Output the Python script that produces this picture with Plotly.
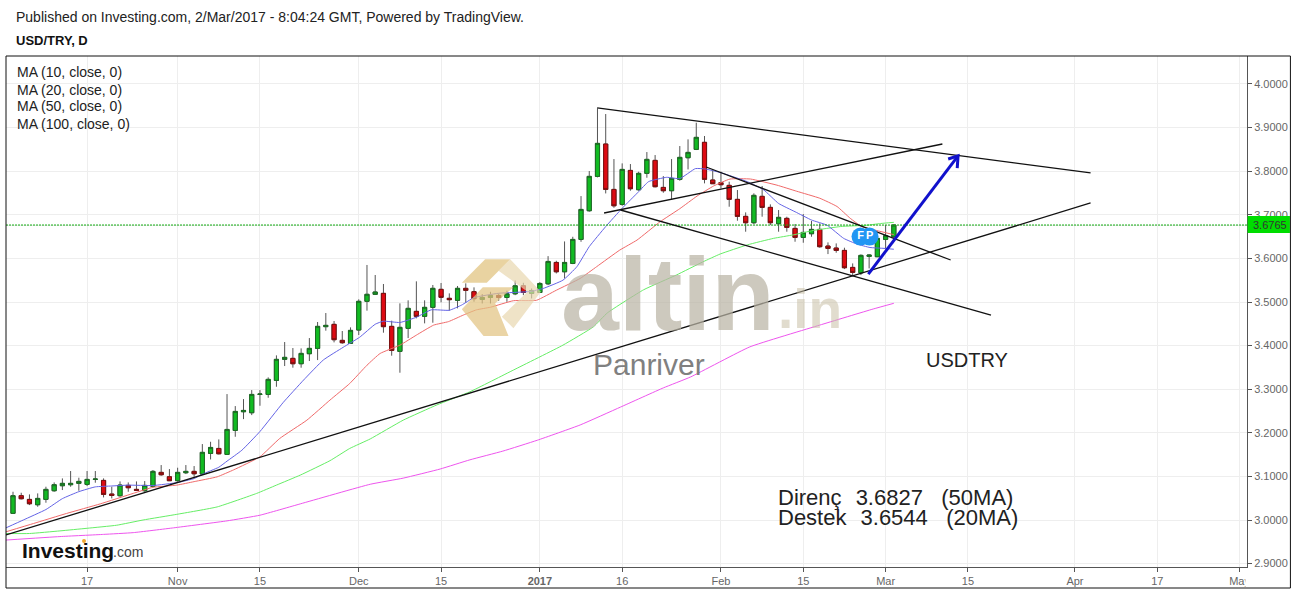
import plotly.graph_objects as go
import numpy as np

# Daily bars, in bar-number order (bar 0 = 4 Oct 2016)
opens = [3.0153,3.0557,3.0472,3.0350,3.0472,3.0671,3.0786,3.0809,3.0840,3.0816,3.0931,3.0908,3.0595,3.0557,3.0794,3.0702,3.0671,3.0771,3.1092,3.0992,3.0901,3.1084,3.1115,3.1054,
 3.1527,3.1641,3.1504,3.2054,3.2483,3.2460,3.2880,3.2880,3.3202,3.3684,3.3707,3.3584,3.3814,3.3936,3.4434,3.4487,3.4120,3.4051,3.4357,3.5015,3.5176,3.5198,3.4441,3.3867,
 3.4395,3.4785,3.4671,3.4877,3.5290,3.5084,3.5038,3.5313,3.5237,3.5058,3.5104,3.5150,3.5104,3.5188,3.5371,3.5195,3.5218,3.5417,3.5907,3.5693,3.5884,3.6435,3.7093,3.7881,
 3.8623,3.7582,3.7238,3.8018,3.7575,3.7950,3.8248,3.7628,3.7552,3.7812,3.8309,3.8500,3.8662,3.7797,3.7736,3.7675,3.7354,3.6964,3.6818,3.7423,3.7170,3.6795,3.6918,3.6688,
 3.6482,3.6566,3.6665,3.6283,3.6237,3.6183,3.5793,3.5671,3.6046,3.6038,3.6436,3.6497]
highs = [3.0648,3.0625,3.0587,3.0610,3.0763,3.0862,3.0954,3.1123,3.0970,3.1123,3.1123,3.0954,3.0763,3.0885,3.0862,3.0885,3.0893,3.1146,3.1260,3.1168,3.1199,3.1260,3.1237,3.1742,
 3.1794,3.1848,3.2888,3.2613,3.2773,3.2980,3.2980,3.3271,3.3776,3.4082,3.3944,3.3936,3.4173,3.4541,3.4747,3.4564,3.4334,3.4418,3.5061,3.5849,3.5619,3.5413,3.4571,3.4969,
 3.5038,3.5474,3.5038,3.5390,3.5436,3.5198,3.5367,3.5428,3.5336,3.5180,3.5234,3.5195,3.5257,3.5494,3.5440,3.5310,3.5456,3.6052,3.5945,3.6389,3.6496,3.7429,3.8003,3.9441,
 3.9311,3.8278,3.8179,3.8164,3.7988,3.8439,3.8370,3.7888,3.8278,3.8577,3.8730,3.9112,3.8807,3.8042,3.7989,3.7759,3.7568,3.7055,3.7492,3.7660,3.7239,3.7109,3.6956,3.6788,
 3.7017,3.6857,3.6803,3.6367,3.6344,3.6245,3.5885,3.6092,3.6092,3.6497,3.6765,3.6788]
lows = [3.0150,3.0472,3.0342,3.0304,3.0396,3.0648,3.0687,3.0763,3.0671,3.0778,3.0855,3.0518,3.0495,3.0533,3.0648,3.0671,3.0648,3.0763,3.1015,3.0893,3.0878,3.1054,3.0992,3.1031,
 3.1389,3.1504,3.1504,3.1909,3.2314,3.2406,3.2620,3.2804,3.3056,3.3531,3.3493,3.3493,3.3646,3.3668,3.4342,3.4074,3.4043,3.4036,3.4242,3.4801,3.5160,3.4296,3.3768,3.3378,
 3.4173,3.4625,3.4510,3.4525,3.4992,3.4801,3.4854,3.4984,3.5007,3.4966,3.4966,3.5027,3.5004,3.5157,3.5157,3.5081,3.5218,3.5387,3.5655,3.5540,3.5869,3.6381,3.7070,3.7858,
 3.7490,3.7161,3.7207,3.7552,3.7552,3.7850,3.7628,3.7506,3.7353,3.7781,3.8041,3.8485,3.7721,3.7706,3.7606,3.7185,3.6864,3.6612,3.6788,3.6956,3.6765,3.6612,3.6612,3.6382,
 3.6359,3.6497,3.6245,3.6099,3.6130,3.5755,3.5617,3.5617,3.5770,3.6038,3.6206,3.6459]
closes = [3.0557,3.0488,3.0373,3.0495,3.0702,3.0809,3.0840,3.0840,3.0885,3.0931,3.0938,3.0587,3.0564,3.0801,3.0740,3.0679,3.0794,3.1115,3.1038,3.0901,3.1092,3.1115,3.1061,3.1551,
 3.1664,3.1519,3.2077,3.2490,3.2513,3.2880,3.2888,3.3225,3.3684,3.3730,3.3584,3.3821,3.3936,3.4441,3.4464,3.4135,3.4066,3.4349,3.5015,3.5176,3.5229,3.4434,3.3890,3.4418,
 3.4854,3.4671,3.4877,3.5313,3.5107,3.5053,3.5313,3.5267,3.5076,3.5104,3.5150,3.5104,3.5188,3.5371,3.5218,3.5264,3.5425,3.5930,3.5693,3.5907,3.6435,3.7123,3.7881,3.8638,
 3.7582,3.7207,3.8041,3.7598,3.7950,3.8271,3.7644,3.7552,3.7835,3.8317,3.8431,3.8776,3.7813,3.7713,3.7690,3.7354,3.6964,3.6818,3.7446,3.7170,3.6818,3.6941,3.6711,3.6482,
 3.6596,3.6665,3.6268,3.6229,3.6183,3.5786,3.5678,3.6069,3.6077,3.6459,3.6520,3.6765]
bars = list(range(len(opens)))

ma10_x = [-0.85,1.25,4,6,8,10,12,14,17,20,22,23,25,26,27.8,30,32.8,35.3,37.7,40.1,42.1,44,45,47,49,50.8,53,54.5,56,59,62.8,64.4,66.8,68.5,70,72,74,76,77.2,79.4,81,82.9,84.1,85.9,89.2,91.2,93,95,97,98.9,100.9,102.5,104.1,105.8,107]
ma10_y = [2.982,3.000,3.024,3.049,3.065,3.076,3.078,3.080,3.079,3.086,3.095,3.105,3.121,3.135,3.160,3.203,3.269,3.321,3.367,3.396,3.419,3.449,3.456,3.453,3.465,3.482,3.481,3.493,3.510,3.520,3.524,3.531,3.550,3.581,3.627,3.673,3.715,3.753,3.776,3.786,3.783,3.806,3.805,3.797,3.776,3.757,3.726,3.707,3.688,3.676,3.646,3.633,3.625,3.623,3.621]
ma20_x = [-0.85,2.5,6.5,10.6,14.6,17,19.9,22,24.8,26.8,30,32.4,35.7,38.5,40.9,43,44.6,47,49,51.1,52.9,54.7,56.3,58,60.8,63.6,66,68.9,70.9,73.7,75.8,78.6,81,83.1,85.1,87.1,89.6,92.8,95.2,98,100.1,101.7,103.1,104.9,107]
ma20_y = [2.973,2.992,3.015,3.037,3.061,3.075,3.080,3.088,3.099,3.115,3.145,3.187,3.229,3.275,3.313,3.355,3.382,3.401,3.424,3.447,3.455,3.470,3.482,3.488,3.503,3.504,3.527,3.554,3.581,3.619,3.642,3.684,3.714,3.743,3.766,3.782,3.782,3.768,3.754,3.738,3.719,3.692,3.673,3.664,3.6544]
ma50_x = [-0.85,2,5.7,9,12.6,15.8,19.9,24.8,29.6,32,34.9,38.5,40.9,43.4,47.4,51.5,55.5,60.8,66.8,70.5,72.2,76.6,80.6,83.8,85.9,89.2,92.4,94.8,97.2,100.5,103.7,105.4,107]
ma50_y = [2.969,2.969,2.975,2.981,2.988,3.000,3.013,3.030,3.061,3.080,3.103,3.136,3.164,3.186,3.229,3.264,3.294,3.344,3.401,3.443,3.475,3.528,3.562,3.592,3.610,3.631,3.646,3.654,3.664,3.673,3.676,3.680,3.6827]
ma100_x = [-0.85,5.7,11,14.6,19.5,26,30,34.9,43.4,47.4,51.9,55.5,59.5,63.7,68.9,73.8,79,82.3,89.5,98,104.5,107]
ma100_y = [2.954,2.962,2.967,2.971,2.982,2.998,3.011,3.037,3.082,3.096,3.117,3.138,3.158,3.183,3.218,3.259,3.303,3.328,3.397,3.447,3.484,3.497]

trend_x = [70.96,130.9,None,71.8,112.9,None,73.8,118.8,None,84.2,113.9,None,-0.85,130.9]
trend_y = [3.945,3.7959,None,3.7041,3.8624,None,3.711,3.470,None,3.8096,3.5963,None,2.9656,3.7271]
arrow_x = [103.9,114.8,None,113.6,114.8,114.7]
arrow_y = [3.564,3.835,None,3.828,3.835,3.807]

last_price = 3.6765
price_ticks = [2.9,3.0,3.1,3.2,3.3,3.4,3.5,3.6,3.7,3.8,3.9,4.0]
time_tickvals = [-1,9,20,30,42,52,64,74,86,96,106,116,129,139,149]
time_ticktext = ["Oct","17","Nov","15","Dec","15","<b>2017</b>","16","Feb","15","Mar","15","Apr","17","May"]
ma_labels = ["MA (10, close, 0)","MA (20, close, 0)","MA (50, close, 0)","MA (100, close, 0)"]

W,H=1297,593
L,R,T,B=6,1246.6,56,567
FONT="Liberation Sans"
def px(x): return (x-L)/(R-L)
def py(y): return (B-y)/(B-T)

fig=go.Figure()
# wicks underneath, bodies on top so that each can have its own outline colour
fig.add_trace(go.Candlestick(x=bars,open=opens,high=highs,low=lows,close=closes,whiskerwidth=0,
    increasing=dict(line=dict(color="#555555",width=1),fillcolor="#11bb22"),
    decreasing=dict(line=dict(color="#555555",width=1),fillcolor="#dd0a12"),showlegend=False,hoverinfo="skip"))
o=np.array(opens);c=np.array(closes)
fig.add_trace(go.Candlestick(x=bars,open=opens,close=closes,high=np.maximum(o,c),low=np.minimum(o,c),whiskerwidth=0,
    increasing=dict(line=dict(color="#1d6b24",width=1),fillcolor="#11bb22"),
    decreasing=dict(line=dict(color="#7a1010",width=1),fillcolor="#dd0a12"),showlegend=False,hoverinfo="skip"))
for xs,ys,col in [(ma100_x,ma100_y,"#ee55ee"),(ma50_x,ma50_y,"#66ee66"),(ma20_x,ma20_y,"#f06a6a"),(ma10_x,ma10_y,"#6464e6")]:
    fig.add_trace(go.Scatter(x=xs,y=ys,mode="lines",line=dict(color=col,width=1,shape="spline",smoothing=0.4),showlegend=False,hoverinfo="skip"))
fig.add_trace(go.Scatter(x=[-0.85,149.9],y=[last_price,last_price],mode="lines",line=dict(color="#11aa11",width=1,dash="2px,1px"),showlegend=False,hoverinfo="skip"))
fig.add_trace(go.Scatter(x=trend_x,y=trend_y,mode="lines",line=dict(color="#111111",width=1.3),showlegend=False,hoverinfo="skip"))
fig.add_trace(go.Scatter(x=arrow_x,y=arrow_y,mode="lines",line=dict(color="#1111cc",width=3),showlegend=False,hoverinfo="skip"))
fig.add_trace(go.Scatter(x=[102.95,104.05],y=[3.650,3.650],mode="markers+text",text=["<b>F</b>","<b>P</b>"],textposition="middle center",
    textfont=dict(color="white",size=11,family=FONT),marker=dict(color="#2196f3",size=18),showlegend=False,hoverinfo="skip"))

def T_(text,x,y,size,color="#222222",bold=False,anchor="left",opacity=None):
    fig.add_annotation(xref="paper",yref="paper",x=px(x),y=py(y),text=("<b>%s</b>"%text) if bold else text,showarrow=False,
        xanchor=anchor,yanchor="middle",font=dict(family=FONT,size=size,color=color),opacity=opacity,borderpad=0,borderwidth=0)

T_("Published on Investing.com, 2/Mar/2017 - 8:04:24 GMT, Powered by TradingView.",16,17,14)
T_("USD/TRY, D",16,40,13,bold=True,color="#111111")
for i,t in enumerate(ma_labels):
    T_(t,17,72.5+17*i,14)
T_("Panriver",593,364,30,color="#808080")
T_("USDTRY",926,360,20,color="#222222")
T_("Direnç\u00a0\u00a0\u200a3.6827\u00a0\u00a0\u00a0(50MA)",778,497,22,color="#222222")
T_("Destek\u00a0\u00a0\u200a3.6544\u00a0\u00a0\u00a0(20MA)",778,517,22,color="#222222")
T_("Investing",22,550,21,bold=True,color="#111111")
T_(".com",113,552,14,color="#444444")
T_("altin",561,294,104,bold=True,color="rgba(186,180,165,0.72)")
T_(".in",778,309,55,bold=True,color="rgba(200,192,165,0.55)")
T_("3.6765",1253,225,11,color="#333333")

def poly(points,color):
    d="M "+" L ".join("%.4f,%.4f"%(px(450+a/3),py(250+b/3)) for a,b in points)+" Z"
    return dict(type="path",xref="paper",yref="paper",path=d,fillcolor=color,line=dict(width=0),layer="above")
def rect(x0,y0,x1,y1,fill,line=None):
    return dict(type="rect",xref="paper",yref="paper",x0=px(x0),x1=px(x1),y0=py(y0),y1=py(y1),fillcolor=fill,
                line=dict(color=line or "rgba(0,0,0,0)",width=1 if line else 0),layer="above")
shapes=[
    poly([(35,98),(105,28),(180,28),(110,98)],"rgba(226,196,130,0.75)"),
    poly([(145,62),(180,28),(272,125),(190,235),(155,200),(232,125)],"rgba(232,215,175,0.7)"),
    poly([(35,178),(98,112),(190,112),(135,160),(175,258),(100,258)],"rgba(226,196,130,0.72)"),
    rect(1245,568,1289.5,587,"white"),
    rect(1247.2,216,1289.5,233,"#00dd00"),
    rect(0,0,6,591,"white"),
    rect(6,56,1290,588,"rgba(0,0,0,0)","#111111"),
    dict(type="circle",xref="paper",yref="paper",x0=px(82),x1=px(86),y0=py(543),y1=py(539),fillcolor="#f0a830",line=dict(width=0),layer="above"),
]
fig.update_layout(width=W,height=H,autosize=False,margin=dict(l=L,r=W-R,t=T,b=H-B,pad=0),paper_bgcolor="white",plot_bgcolor="white",
    showlegend=False,shapes=shapes,boxgap=0.28,
    xaxis=dict(range=[-0.85,149.9],tickmode="array",tickvals=time_tickvals,ticktext=time_ticktext,showgrid=True,gridcolor="#eeeeee",gridwidth=1,
        zeroline=False,ticks="outside",ticklen=4,tickcolor="#555555",tickfont=dict(family=FONT,size=11,color="#666666"),
        showline=True,linecolor="#555555",linewidth=1,rangeslider=dict(visible=False)),
    yaxis=dict(range=[2.8922,4.0642],side="right",tickmode="array",tickvals=price_ticks+[last_price],ticktext=["%.4f"%v for v in price_ticks]+[""],
        showgrid=True,gridcolor="#eeeeee",gridwidth=1,zeroline=False,ticks="outside",ticklen=4,tickcolor="#555555",
        tickfont=dict(family=FONT,size=11,color="#666666"),showline=True,linecolor="#555555",linewidth=1))
fig.write_html("out.html",config=dict(displayModeBar=False),
    post_script="var s='591px';document.documentElement.style.height=s;document.body.style.height=s;document.body.style.margin='0';document.body.style.overflow='hidden';document.documentElement.style.overflow='hidden';")
